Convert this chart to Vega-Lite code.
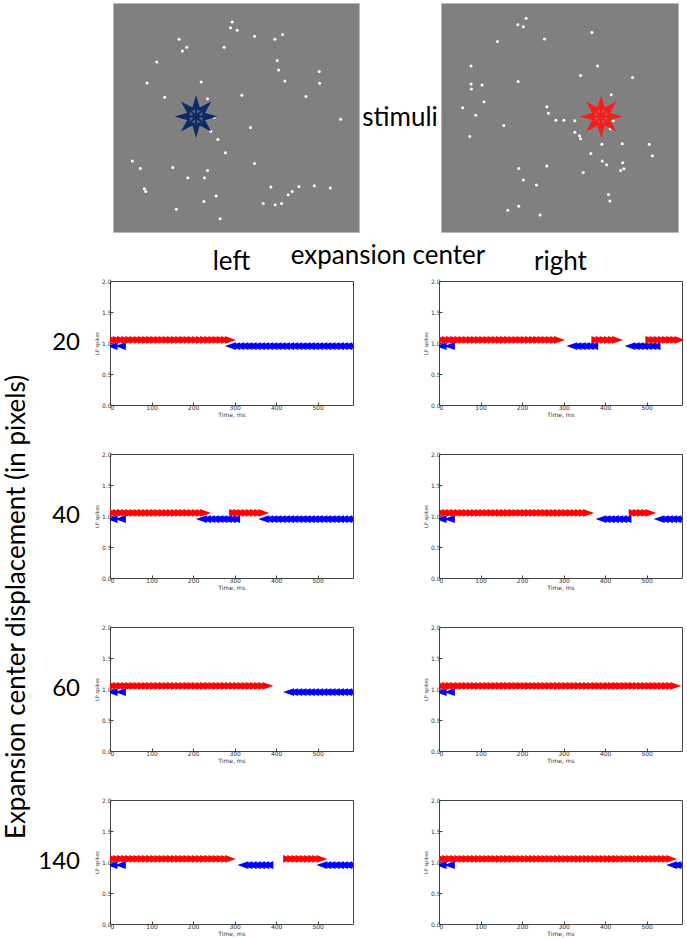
{
"$schema":"https://vega.github.io/schema/vega-lite/v6.json",
"padding":{"left":3,"top":2,"right":0,"bottom":0},
"background":"white",
"config":{"font":"Lato","view":{"stroke":"#444"}},
"datasets":{
"dotsL":[{"x":365,"y":62},{"x":360,"y":79},{"x":380,"y":87},{"x":432,"y":105},{"x":493,"y":114},{"x":516,"y":100},{"x":206,"y":114},{"x":229,"y":138},{"x":216,"y":149},{"x":341,"y":138},{"x":139,"y":182},{"x":500,"y":178},{"x":504,"y":206},{"x":626,"y":211},{"x":110,"y":245},{"x":272,"y":242},{"x":523,"y":239},{"x":627,"y":246},{"x":163,"y":288},{"x":291,"y":293},{"x":394,"y":282},{"x":586,"y":286},{"x":311,"y":348},{"x":690,"y":354},{"x":301,"y":390},{"x":420,"y":379},{"x":322,"y":415},{"x":345,"y":455},{"x":66,"y":480},{"x":90,"y":502},{"x":187,"y":499},{"x":432,"y":487},{"x":291,"y":508},{"x":232,"y":530},{"x":282,"y":530},{"x":481,"y":558},{"x":565,"y":556},{"x":611,"y":554},{"x":659,"y":561},{"x":545,"y":571},{"x":533,"y":581},{"x":102,"y":563},{"x":106,"y":571},{"x":317,"y":585},{"x":280,"y":601},{"x":458,"y":607},{"x":494,"y":611},{"x":513,"y":607},{"x":198,"y":625},{"x":329,"y":653}],
"dotsR":[{"x":260,"y":51},{"x":235,"y":70},{"x":252,"y":76},{"x":457,"y":94},{"x":174,"y":121},{"x":315,"y":113},{"x":95,"y":194},{"x":474,"y":194},{"x":423,"y":223},{"x":579,"y":229},{"x":95,"y":248},{"x":128,"y":251},{"x":96,"y":263},{"x":236,"y":241},{"x":515,"y":281},{"x":134,"y":302},{"x":70,"y":320},{"x":322,"y":317},{"x":327,"y":336},{"x":109,"y":342},{"x":349,"y":357},{"x":373,"y":357},{"x":406,"y":359},{"x":521,"y":359},{"x":512,"y":383},{"x":193,"y":373},{"x":406,"y":393},{"x":420,"y":404},{"x":423,"y":413},{"x":91,"y":406},{"x":487,"y":429},{"x":548,"y":428},{"x":629,"y":429},{"x":638,"y":464},{"x":454,"y":457},{"x":488,"y":480},{"x":501,"y":491},{"x":549,"y":485},{"x":553,"y":503},{"x":543,"y":508},{"x":431,"y":514},{"x":238,"y":502},{"x":322,"y":495},{"x":252,"y":537},{"x":291,"y":552},{"x":507,"y":580},{"x":511,"y":600},{"x":238,"y":616},{"x":205,"y":628},{"x":302,"y":642}],
"starL":[{"x":257,"y":346}],
"starR":[{"x":485,"y":346}],
"spikes":[
{"d":20,"c":"left","s":"L","v":0.95,"t":5},{"d":20,"c":"left","s":"L","v":0.95,"t":25},{"d":20,"c":"left","s":"L","v":0.95,"t":290},{"d":20,"c":"left","s":"L","v":0.95,"t":300},{"d":20,"c":"left","s":"L","v":0.95,"t":310},{"d":20,"c":"left","s":"L","v":0.95,"t":320},{"d":20,"c":"left","s":"L","v":0.95,"t":330},{"d":20,"c":"left","s":"L","v":0.95,"t":340},{"d":20,"c":"left","s":"L","v":0.95,"t":350},{"d":20,"c":"left","s":"L","v":0.95,"t":360},{"d":20,"c":"left","s":"L","v":0.95,"t":370},{"d":20,"c":"left","s":"L","v":0.95,"t":380},{"d":20,"c":"left","s":"L","v":0.95,"t":390},{"d":20,"c":"left","s":"L","v":0.95,"t":400},{"d":20,"c":"left","s":"L","v":0.95,"t":410},{"d":20,"c":"left","s":"L","v":0.95,"t":420},{"d":20,"c":"left","s":"L","v":0.95,"t":430},{"d":20,"c":"left","s":"L","v":0.95,"t":440},{"d":20,"c":"left","s":"L","v":0.95,"t":450},{"d":20,"c":"left","s":"L","v":0.95,"t":460},{"d":20,"c":"left","s":"L","v":0.95,"t":470},{"d":20,"c":"left","s":"L","v":0.95,"t":480},{"d":20,"c":"left","s":"L","v":0.95,"t":490},{"d":20,"c":"left","s":"L","v":0.95,"t":500},{"d":20,"c":"left","s":"L","v":0.95,"t":510},{"d":20,"c":"left","s":"L","v":0.95,"t":520},{"d":20,"c":"left","s":"L","v":0.95,"t":530},{"d":20,"c":"left","s":"L","v":0.95,"t":540},{"d":20,"c":"left","s":"L","v":0.95,"t":550},{"d":20,"c":"left","s":"L","v":0.95,"t":560},{"d":20,"c":"left","s":"L","v":0.95,"t":570},{"d":20,"c":"left","s":"L","v":0.95,"t":580},
{"d":20,"c":"left","s":"R","v":1.05,"t":0},{"d":20,"c":"left","s":"R","v":1.05,"t":10},{"d":20,"c":"left","s":"R","v":1.05,"t":20},{"d":20,"c":"left","s":"R","v":1.05,"t":30},{"d":20,"c":"left","s":"R","v":1.05,"t":40},{"d":20,"c":"left","s":"R","v":1.05,"t":50},{"d":20,"c":"left","s":"R","v":1.05,"t":60},{"d":20,"c":"left","s":"R","v":1.05,"t":70},{"d":20,"c":"left","s":"R","v":1.05,"t":80},{"d":20,"c":"left","s":"R","v":1.05,"t":90},{"d":20,"c":"left","s":"R","v":1.05,"t":100},{"d":20,"c":"left","s":"R","v":1.05,"t":110},{"d":20,"c":"left","s":"R","v":1.05,"t":120},{"d":20,"c":"left","s":"R","v":1.05,"t":130},{"d":20,"c":"left","s":"R","v":1.05,"t":140},{"d":20,"c":"left","s":"R","v":1.05,"t":150},{"d":20,"c":"left","s":"R","v":1.05,"t":160},{"d":20,"c":"left","s":"R","v":1.05,"t":170},{"d":20,"c":"left","s":"R","v":1.05,"t":180},{"d":20,"c":"left","s":"R","v":1.05,"t":190},{"d":20,"c":"left","s":"R","v":1.05,"t":200},{"d":20,"c":"left","s":"R","v":1.05,"t":210},{"d":20,"c":"left","s":"R","v":1.05,"t":220},{"d":20,"c":"left","s":"R","v":1.05,"t":230},{"d":20,"c":"left","s":"R","v":1.05,"t":240},{"d":20,"c":"left","s":"R","v":1.05,"t":250},{"d":20,"c":"left","s":"R","v":1.05,"t":260},{"d":20,"c":"left","s":"R","v":1.05,"t":270},{"d":20,"c":"left","s":"R","v":1.05,"t":280},{"d":20,"c":"left","s":"R","v":1.05,"t":290},
{"d":20,"c":"right","s":"L","v":0.95,"t":5},{"d":20,"c":"right","s":"L","v":0.95,"t":25},{"d":20,"c":"right","s":"L","v":0.95,"t":320},{"d":20,"c":"right","s":"L","v":0.95,"t":330},{"d":20,"c":"right","s":"L","v":0.95,"t":340},{"d":20,"c":"right","s":"L","v":0.95,"t":350},{"d":20,"c":"right","s":"L","v":0.95,"t":360},{"d":20,"c":"right","s":"L","v":0.95,"t":370},{"d":20,"c":"right","s":"L","v":0.95,"t":460},{"d":20,"c":"right","s":"L","v":0.95,"t":470},{"d":20,"c":"right","s":"L","v":0.95,"t":480},{"d":20,"c":"right","s":"L","v":0.95,"t":490},{"d":20,"c":"right","s":"L","v":0.95,"t":500},{"d":20,"c":"right","s":"L","v":0.95,"t":510},{"d":20,"c":"right","s":"L","v":0.95,"t":520},
{"d":20,"c":"right","s":"R","v":1.05,"t":0},{"d":20,"c":"right","s":"R","v":1.05,"t":10},{"d":20,"c":"right","s":"R","v":1.05,"t":20},{"d":20,"c":"right","s":"R","v":1.05,"t":30},{"d":20,"c":"right","s":"R","v":1.05,"t":40},{"d":20,"c":"right","s":"R","v":1.05,"t":50},{"d":20,"c":"right","s":"R","v":1.05,"t":60},{"d":20,"c":"right","s":"R","v":1.05,"t":70},{"d":20,"c":"right","s":"R","v":1.05,"t":80},{"d":20,"c":"right","s":"R","v":1.05,"t":90},{"d":20,"c":"right","s":"R","v":1.05,"t":100},{"d":20,"c":"right","s":"R","v":1.05,"t":110},{"d":20,"c":"right","s":"R","v":1.05,"t":120},{"d":20,"c":"right","s":"R","v":1.05,"t":130},{"d":20,"c":"right","s":"R","v":1.05,"t":140},{"d":20,"c":"right","s":"R","v":1.05,"t":150},{"d":20,"c":"right","s":"R","v":1.05,"t":160},{"d":20,"c":"right","s":"R","v":1.05,"t":170},{"d":20,"c":"right","s":"R","v":1.05,"t":180},{"d":20,"c":"right","s":"R","v":1.05,"t":190},{"d":20,"c":"right","s":"R","v":1.05,"t":200},{"d":20,"c":"right","s":"R","v":1.05,"t":210},{"d":20,"c":"right","s":"R","v":1.05,"t":220},{"d":20,"c":"right","s":"R","v":1.05,"t":230},{"d":20,"c":"right","s":"R","v":1.05,"t":240},{"d":20,"c":"right","s":"R","v":1.05,"t":250},{"d":20,"c":"right","s":"R","v":1.05,"t":260},{"d":20,"c":"right","s":"R","v":1.05,"t":270},{"d":20,"c":"right","s":"R","v":1.05,"t":280},{"d":20,"c":"right","s":"R","v":1.05,"t":290},{"d":20,"c":"right","s":"R","v":1.05,"t":380},{"d":20,"c":"right","s":"R","v":1.05,"t":390},{"d":20,"c":"right","s":"R","v":1.05,"t":400},{"d":20,"c":"right","s":"R","v":1.05,"t":410},{"d":20,"c":"right","s":"R","v":1.05,"t":420},{"d":20,"c":"right","s":"R","v":1.05,"t":430},{"d":20,"c":"right","s":"R","v":1.05,"t":510},{"d":20,"c":"right","s":"R","v":1.05,"t":520},{"d":20,"c":"right","s":"R","v":1.05,"t":530},{"d":20,"c":"right","s":"R","v":1.05,"t":540},{"d":20,"c":"right","s":"R","v":1.05,"t":550},{"d":20,"c":"right","s":"R","v":1.05,"t":560},{"d":20,"c":"right","s":"R","v":1.05,"t":570},{"d":20,"c":"right","s":"R","v":1.05,"t":580},
{"d":40,"c":"left","s":"L","v":0.95,"t":5},{"d":40,"c":"left","s":"L","v":0.95,"t":25},{"d":40,"c":"left","s":"L","v":0.95,"t":220},{"d":40,"c":"left","s":"L","v":0.95,"t":230},{"d":40,"c":"left","s":"L","v":0.95,"t":240},{"d":40,"c":"left","s":"L","v":0.95,"t":250},{"d":40,"c":"left","s":"L","v":0.95,"t":260},{"d":40,"c":"left","s":"L","v":0.95,"t":270},{"d":40,"c":"left","s":"L","v":0.95,"t":280},{"d":40,"c":"left","s":"L","v":0.95,"t":290},{"d":40,"c":"left","s":"L","v":0.95,"t":300},{"d":40,"c":"left","s":"L","v":0.95,"t":370},{"d":40,"c":"left","s":"L","v":0.95,"t":380},{"d":40,"c":"left","s":"L","v":0.95,"t":390},{"d":40,"c":"left","s":"L","v":0.95,"t":400},{"d":40,"c":"left","s":"L","v":0.95,"t":410},{"d":40,"c":"left","s":"L","v":0.95,"t":420},{"d":40,"c":"left","s":"L","v":0.95,"t":430},{"d":40,"c":"left","s":"L","v":0.95,"t":440},{"d":40,"c":"left","s":"L","v":0.95,"t":450},{"d":40,"c":"left","s":"L","v":0.95,"t":460},{"d":40,"c":"left","s":"L","v":0.95,"t":470},{"d":40,"c":"left","s":"L","v":0.95,"t":480},{"d":40,"c":"left","s":"L","v":0.95,"t":490},{"d":40,"c":"left","s":"L","v":0.95,"t":500},{"d":40,"c":"left","s":"L","v":0.95,"t":510},{"d":40,"c":"left","s":"L","v":0.95,"t":520},{"d":40,"c":"left","s":"L","v":0.95,"t":530},{"d":40,"c":"left","s":"L","v":0.95,"t":540},{"d":40,"c":"left","s":"L","v":0.95,"t":550},{"d":40,"c":"left","s":"L","v":0.95,"t":560},{"d":40,"c":"left","s":"L","v":0.95,"t":570},{"d":40,"c":"left","s":"L","v":0.95,"t":580},
{"d":40,"c":"left","s":"R","v":1.05,"t":0},{"d":40,"c":"left","s":"R","v":1.05,"t":10},{"d":40,"c":"left","s":"R","v":1.05,"t":20},{"d":40,"c":"left","s":"R","v":1.05,"t":30},{"d":40,"c":"left","s":"R","v":1.05,"t":40},{"d":40,"c":"left","s":"R","v":1.05,"t":50},{"d":40,"c":"left","s":"R","v":1.05,"t":60},{"d":40,"c":"left","s":"R","v":1.05,"t":70},{"d":40,"c":"left","s":"R","v":1.05,"t":80},{"d":40,"c":"left","s":"R","v":1.05,"t":90},{"d":40,"c":"left","s":"R","v":1.05,"t":100},{"d":40,"c":"left","s":"R","v":1.05,"t":110},{"d":40,"c":"left","s":"R","v":1.05,"t":120},{"d":40,"c":"left","s":"R","v":1.05,"t":130},{"d":40,"c":"left","s":"R","v":1.05,"t":140},{"d":40,"c":"left","s":"R","v":1.05,"t":150},{"d":40,"c":"left","s":"R","v":1.05,"t":160},{"d":40,"c":"left","s":"R","v":1.05,"t":170},{"d":40,"c":"left","s":"R","v":1.05,"t":180},{"d":40,"c":"left","s":"R","v":1.05,"t":190},{"d":40,"c":"left","s":"R","v":1.05,"t":200},{"d":40,"c":"left","s":"R","v":1.05,"t":210},{"d":40,"c":"left","s":"R","v":1.05,"t":220},{"d":40,"c":"left","s":"R","v":1.05,"t":230},{"d":40,"c":"left","s":"R","v":1.05,"t":300},{"d":40,"c":"left","s":"R","v":1.05,"t":310},{"d":40,"c":"left","s":"R","v":1.05,"t":320},{"d":40,"c":"left","s":"R","v":1.05,"t":330},{"d":40,"c":"left","s":"R","v":1.05,"t":340},{"d":40,"c":"left","s":"R","v":1.05,"t":350},{"d":40,"c":"left","s":"R","v":1.05,"t":360},{"d":40,"c":"left","s":"R","v":1.05,"t":370},
{"d":40,"c":"right","s":"L","v":0.95,"t":5},{"d":40,"c":"right","s":"L","v":0.95,"t":25},{"d":40,"c":"right","s":"L","v":0.95,"t":390},{"d":40,"c":"right","s":"L","v":0.95,"t":400},{"d":40,"c":"right","s":"L","v":0.95,"t":410},{"d":40,"c":"right","s":"L","v":0.95,"t":420},{"d":40,"c":"right","s":"L","v":0.95,"t":430},{"d":40,"c":"right","s":"L","v":0.95,"t":440},{"d":40,"c":"right","s":"L","v":0.95,"t":450},{"d":40,"c":"right","s":"L","v":0.95,"t":530},{"d":40,"c":"right","s":"L","v":0.95,"t":540},{"d":40,"c":"right","s":"L","v":0.95,"t":550},{"d":40,"c":"right","s":"L","v":0.95,"t":560},{"d":40,"c":"right","s":"L","v":0.95,"t":570},{"d":40,"c":"right","s":"L","v":0.95,"t":580},
{"d":40,"c":"right","s":"R","v":1.05,"t":0},{"d":40,"c":"right","s":"R","v":1.05,"t":10},{"d":40,"c":"right","s":"R","v":1.05,"t":20},{"d":40,"c":"right","s":"R","v":1.05,"t":30},{"d":40,"c":"right","s":"R","v":1.05,"t":40},{"d":40,"c":"right","s":"R","v":1.05,"t":50},{"d":40,"c":"right","s":"R","v":1.05,"t":60},{"d":40,"c":"right","s":"R","v":1.05,"t":70},{"d":40,"c":"right","s":"R","v":1.05,"t":80},{"d":40,"c":"right","s":"R","v":1.05,"t":90},{"d":40,"c":"right","s":"R","v":1.05,"t":100},{"d":40,"c":"right","s":"R","v":1.05,"t":110},{"d":40,"c":"right","s":"R","v":1.05,"t":120},{"d":40,"c":"right","s":"R","v":1.05,"t":130},{"d":40,"c":"right","s":"R","v":1.05,"t":140},{"d":40,"c":"right","s":"R","v":1.05,"t":150},{"d":40,"c":"right","s":"R","v":1.05,"t":160},{"d":40,"c":"right","s":"R","v":1.05,"t":170},{"d":40,"c":"right","s":"R","v":1.05,"t":180},{"d":40,"c":"right","s":"R","v":1.05,"t":190},{"d":40,"c":"right","s":"R","v":1.05,"t":200},{"d":40,"c":"right","s":"R","v":1.05,"t":210},{"d":40,"c":"right","s":"R","v":1.05,"t":220},{"d":40,"c":"right","s":"R","v":1.05,"t":230},{"d":40,"c":"right","s":"R","v":1.05,"t":240},{"d":40,"c":"right","s":"R","v":1.05,"t":250},{"d":40,"c":"right","s":"R","v":1.05,"t":260},{"d":40,"c":"right","s":"R","v":1.05,"t":270},{"d":40,"c":"right","s":"R","v":1.05,"t":280},{"d":40,"c":"right","s":"R","v":1.05,"t":290},{"d":40,"c":"right","s":"R","v":1.05,"t":300},{"d":40,"c":"right","s":"R","v":1.05,"t":310},{"d":40,"c":"right","s":"R","v":1.05,"t":320},{"d":40,"c":"right","s":"R","v":1.05,"t":330},{"d":40,"c":"right","s":"R","v":1.05,"t":340},{"d":40,"c":"right","s":"R","v":1.05,"t":350},{"d":40,"c":"right","s":"R","v":1.05,"t":360},{"d":40,"c":"right","s":"R","v":1.05,"t":470},{"d":40,"c":"right","s":"R","v":1.05,"t":480},{"d":40,"c":"right","s":"R","v":1.05,"t":490},{"d":40,"c":"right","s":"R","v":1.05,"t":500},{"d":40,"c":"right","s":"R","v":1.05,"t":510},
{"d":60,"c":"left","s":"L","v":0.95,"t":5},{"d":60,"c":"left","s":"L","v":0.95,"t":25},{"d":60,"c":"left","s":"L","v":0.95,"t":430},{"d":60,"c":"left","s":"L","v":0.95,"t":440},{"d":60,"c":"left","s":"L","v":0.95,"t":450},{"d":60,"c":"left","s":"L","v":0.95,"t":460},{"d":60,"c":"left","s":"L","v":0.95,"t":470},{"d":60,"c":"left","s":"L","v":0.95,"t":480},{"d":60,"c":"left","s":"L","v":0.95,"t":490},{"d":60,"c":"left","s":"L","v":0.95,"t":500},{"d":60,"c":"left","s":"L","v":0.95,"t":510},{"d":60,"c":"left","s":"L","v":0.95,"t":520},{"d":60,"c":"left","s":"L","v":0.95,"t":530},{"d":60,"c":"left","s":"L","v":0.95,"t":540},{"d":60,"c":"left","s":"L","v":0.95,"t":550},{"d":60,"c":"left","s":"L","v":0.95,"t":560},{"d":60,"c":"left","s":"L","v":0.95,"t":570},{"d":60,"c":"left","s":"L","v":0.95,"t":580},
{"d":60,"c":"left","s":"R","v":1.05,"t":0},{"d":60,"c":"left","s":"R","v":1.05,"t":10},{"d":60,"c":"left","s":"R","v":1.05,"t":20},{"d":60,"c":"left","s":"R","v":1.05,"t":30},{"d":60,"c":"left","s":"R","v":1.05,"t":40},{"d":60,"c":"left","s":"R","v":1.05,"t":50},{"d":60,"c":"left","s":"R","v":1.05,"t":60},{"d":60,"c":"left","s":"R","v":1.05,"t":70},{"d":60,"c":"left","s":"R","v":1.05,"t":80},{"d":60,"c":"left","s":"R","v":1.05,"t":90},{"d":60,"c":"left","s":"R","v":1.05,"t":100},{"d":60,"c":"left","s":"R","v":1.05,"t":110},{"d":60,"c":"left","s":"R","v":1.05,"t":120},{"d":60,"c":"left","s":"R","v":1.05,"t":130},{"d":60,"c":"left","s":"R","v":1.05,"t":140},{"d":60,"c":"left","s":"R","v":1.05,"t":150},{"d":60,"c":"left","s":"R","v":1.05,"t":160},{"d":60,"c":"left","s":"R","v":1.05,"t":170},{"d":60,"c":"left","s":"R","v":1.05,"t":180},{"d":60,"c":"left","s":"R","v":1.05,"t":190},{"d":60,"c":"left","s":"R","v":1.05,"t":200},{"d":60,"c":"left","s":"R","v":1.05,"t":210},{"d":60,"c":"left","s":"R","v":1.05,"t":220},{"d":60,"c":"left","s":"R","v":1.05,"t":230},{"d":60,"c":"left","s":"R","v":1.05,"t":240},{"d":60,"c":"left","s":"R","v":1.05,"t":250},{"d":60,"c":"left","s":"R","v":1.05,"t":260},{"d":60,"c":"left","s":"R","v":1.05,"t":270},{"d":60,"c":"left","s":"R","v":1.05,"t":280},{"d":60,"c":"left","s":"R","v":1.05,"t":290},{"d":60,"c":"left","s":"R","v":1.05,"t":300},{"d":60,"c":"left","s":"R","v":1.05,"t":310},{"d":60,"c":"left","s":"R","v":1.05,"t":320},{"d":60,"c":"left","s":"R","v":1.05,"t":330},{"d":60,"c":"left","s":"R","v":1.05,"t":340},{"d":60,"c":"left","s":"R","v":1.05,"t":350},{"d":60,"c":"left","s":"R","v":1.05,"t":360},{"d":60,"c":"left","s":"R","v":1.05,"t":370},{"d":60,"c":"left","s":"R","v":1.05,"t":380},
{"d":60,"c":"right","s":"L","v":0.95,"t":5},{"d":60,"c":"right","s":"L","v":0.95,"t":25},
{"d":60,"c":"right","s":"R","v":1.05,"t":0},{"d":60,"c":"right","s":"R","v":1.05,"t":10},{"d":60,"c":"right","s":"R","v":1.05,"t":20},{"d":60,"c":"right","s":"R","v":1.05,"t":30},{"d":60,"c":"right","s":"R","v":1.05,"t":40},{"d":60,"c":"right","s":"R","v":1.05,"t":50},{"d":60,"c":"right","s":"R","v":1.05,"t":60},{"d":60,"c":"right","s":"R","v":1.05,"t":70},{"d":60,"c":"right","s":"R","v":1.05,"t":80},{"d":60,"c":"right","s":"R","v":1.05,"t":90},{"d":60,"c":"right","s":"R","v":1.05,"t":100},{"d":60,"c":"right","s":"R","v":1.05,"t":110},{"d":60,"c":"right","s":"R","v":1.05,"t":120},{"d":60,"c":"right","s":"R","v":1.05,"t":130},{"d":60,"c":"right","s":"R","v":1.05,"t":140},{"d":60,"c":"right","s":"R","v":1.05,"t":150},{"d":60,"c":"right","s":"R","v":1.05,"t":160},{"d":60,"c":"right","s":"R","v":1.05,"t":170},{"d":60,"c":"right","s":"R","v":1.05,"t":180},{"d":60,"c":"right","s":"R","v":1.05,"t":190},{"d":60,"c":"right","s":"R","v":1.05,"t":200},{"d":60,"c":"right","s":"R","v":1.05,"t":210},{"d":60,"c":"right","s":"R","v":1.05,"t":220},{"d":60,"c":"right","s":"R","v":1.05,"t":230},{"d":60,"c":"right","s":"R","v":1.05,"t":240},{"d":60,"c":"right","s":"R","v":1.05,"t":250},{"d":60,"c":"right","s":"R","v":1.05,"t":260},{"d":60,"c":"right","s":"R","v":1.05,"t":270},{"d":60,"c":"right","s":"R","v":1.05,"t":280},{"d":60,"c":"right","s":"R","v":1.05,"t":290},{"d":60,"c":"right","s":"R","v":1.05,"t":300},{"d":60,"c":"right","s":"R","v":1.05,"t":310},{"d":60,"c":"right","s":"R","v":1.05,"t":320},{"d":60,"c":"right","s":"R","v":1.05,"t":330},{"d":60,"c":"right","s":"R","v":1.05,"t":340},{"d":60,"c":"right","s":"R","v":1.05,"t":350},{"d":60,"c":"right","s":"R","v":1.05,"t":360},{"d":60,"c":"right","s":"R","v":1.05,"t":370},{"d":60,"c":"right","s":"R","v":1.05,"t":380},{"d":60,"c":"right","s":"R","v":1.05,"t":390},{"d":60,"c":"right","s":"R","v":1.05,"t":400},{"d":60,"c":"right","s":"R","v":1.05,"t":410},{"d":60,"c":"right","s":"R","v":1.05,"t":420},{"d":60,"c":"right","s":"R","v":1.05,"t":430},{"d":60,"c":"right","s":"R","v":1.05,"t":440},{"d":60,"c":"right","s":"R","v":1.05,"t":450},{"d":60,"c":"right","s":"R","v":1.05,"t":460},{"d":60,"c":"right","s":"R","v":1.05,"t":470},{"d":60,"c":"right","s":"R","v":1.05,"t":480},{"d":60,"c":"right","s":"R","v":1.05,"t":490},{"d":60,"c":"right","s":"R","v":1.05,"t":500},{"d":60,"c":"right","s":"R","v":1.05,"t":510},{"d":60,"c":"right","s":"R","v":1.05,"t":520},{"d":60,"c":"right","s":"R","v":1.05,"t":530},{"d":60,"c":"right","s":"R","v":1.05,"t":540},{"d":60,"c":"right","s":"R","v":1.05,"t":550},{"d":60,"c":"right","s":"R","v":1.05,"t":560},{"d":60,"c":"right","s":"R","v":1.05,"t":570},
{"d":140,"c":"left","s":"L","v":0.95,"t":5},{"d":140,"c":"left","s":"L","v":0.95,"t":25},{"d":140,"c":"left","s":"L","v":0.95,"t":320},{"d":140,"c":"left","s":"L","v":0.95,"t":330},{"d":140,"c":"left","s":"L","v":0.95,"t":340},{"d":140,"c":"left","s":"L","v":0.95,"t":350},{"d":140,"c":"left","s":"L","v":0.95,"t":360},{"d":140,"c":"left","s":"L","v":0.95,"t":370},{"d":140,"c":"left","s":"L","v":0.95,"t":380},{"d":140,"c":"left","s":"L","v":0.95,"t":510},{"d":140,"c":"left","s":"L","v":0.95,"t":520},{"d":140,"c":"left","s":"L","v":0.95,"t":530},{"d":140,"c":"left","s":"L","v":0.95,"t":540},{"d":140,"c":"left","s":"L","v":0.95,"t":550},{"d":140,"c":"left","s":"L","v":0.95,"t":560},{"d":140,"c":"left","s":"L","v":0.95,"t":570},{"d":140,"c":"left","s":"L","v":0.95,"t":580},
{"d":140,"c":"left","s":"R","v":1.05,"t":0},{"d":140,"c":"left","s":"R","v":1.05,"t":10},{"d":140,"c":"left","s":"R","v":1.05,"t":20},{"d":140,"c":"left","s":"R","v":1.05,"t":30},{"d":140,"c":"left","s":"R","v":1.05,"t":40},{"d":140,"c":"left","s":"R","v":1.05,"t":50},{"d":140,"c":"left","s":"R","v":1.05,"t":60},{"d":140,"c":"left","s":"R","v":1.05,"t":70},{"d":140,"c":"left","s":"R","v":1.05,"t":80},{"d":140,"c":"left","s":"R","v":1.05,"t":90},{"d":140,"c":"left","s":"R","v":1.05,"t":100},{"d":140,"c":"left","s":"R","v":1.05,"t":110},{"d":140,"c":"left","s":"R","v":1.05,"t":120},{"d":140,"c":"left","s":"R","v":1.05,"t":130},{"d":140,"c":"left","s":"R","v":1.05,"t":140},{"d":140,"c":"left","s":"R","v":1.05,"t":150},{"d":140,"c":"left","s":"R","v":1.05,"t":160},{"d":140,"c":"left","s":"R","v":1.05,"t":170},{"d":140,"c":"left","s":"R","v":1.05,"t":180},{"d":140,"c":"left","s":"R","v":1.05,"t":190},{"d":140,"c":"left","s":"R","v":1.05,"t":200},{"d":140,"c":"left","s":"R","v":1.05,"t":210},{"d":140,"c":"left","s":"R","v":1.05,"t":220},{"d":140,"c":"left","s":"R","v":1.05,"t":230},{"d":140,"c":"left","s":"R","v":1.05,"t":240},{"d":140,"c":"left","s":"R","v":1.05,"t":250},{"d":140,"c":"left","s":"R","v":1.05,"t":260},{"d":140,"c":"left","s":"R","v":1.05,"t":270},{"d":140,"c":"left","s":"R","v":1.05,"t":280},{"d":140,"c":"left","s":"R","v":1.05,"t":290},{"d":140,"c":"left","s":"R","v":1.05,"t":430},{"d":140,"c":"left","s":"R","v":1.05,"t":440},{"d":140,"c":"left","s":"R","v":1.05,"t":450},{"d":140,"c":"left","s":"R","v":1.05,"t":460},{"d":140,"c":"left","s":"R","v":1.05,"t":470},{"d":140,"c":"left","s":"R","v":1.05,"t":480},{"d":140,"c":"left","s":"R","v":1.05,"t":490},{"d":140,"c":"left","s":"R","v":1.05,"t":500},{"d":140,"c":"left","s":"R","v":1.05,"t":510},
{"d":140,"c":"right","s":"L","v":0.95,"t":5},{"d":140,"c":"right","s":"L","v":0.95,"t":25},{"d":140,"c":"right","s":"L","v":0.95,"t":560},{"d":140,"c":"right","s":"L","v":0.95,"t":570},{"d":140,"c":"right","s":"L","v":0.95,"t":580},
{"d":140,"c":"right","s":"R","v":1.05,"t":0},{"d":140,"c":"right","s":"R","v":1.05,"t":10},{"d":140,"c":"right","s":"R","v":1.05,"t":20},{"d":140,"c":"right","s":"R","v":1.05,"t":30},{"d":140,"c":"right","s":"R","v":1.05,"t":40},{"d":140,"c":"right","s":"R","v":1.05,"t":50},{"d":140,"c":"right","s":"R","v":1.05,"t":60},{"d":140,"c":"right","s":"R","v":1.05,"t":70},{"d":140,"c":"right","s":"R","v":1.05,"t":80},{"d":140,"c":"right","s":"R","v":1.05,"t":90},{"d":140,"c":"right","s":"R","v":1.05,"t":100},{"d":140,"c":"right","s":"R","v":1.05,"t":110},{"d":140,"c":"right","s":"R","v":1.05,"t":120},{"d":140,"c":"right","s":"R","v":1.05,"t":130},{"d":140,"c":"right","s":"R","v":1.05,"t":140},{"d":140,"c":"right","s":"R","v":1.05,"t":150},{"d":140,"c":"right","s":"R","v":1.05,"t":160},{"d":140,"c":"right","s":"R","v":1.05,"t":170},{"d":140,"c":"right","s":"R","v":1.05,"t":180},{"d":140,"c":"right","s":"R","v":1.05,"t":190},{"d":140,"c":"right","s":"R","v":1.05,"t":200},{"d":140,"c":"right","s":"R","v":1.05,"t":210},{"d":140,"c":"right","s":"R","v":1.05,"t":220},{"d":140,"c":"right","s":"R","v":1.05,"t":230},{"d":140,"c":"right","s":"R","v":1.05,"t":240},{"d":140,"c":"right","s":"R","v":1.05,"t":250},{"d":140,"c":"right","s":"R","v":1.05,"t":260},{"d":140,"c":"right","s":"R","v":1.05,"t":270},{"d":140,"c":"right","s":"R","v":1.05,"t":280},{"d":140,"c":"right","s":"R","v":1.05,"t":290},{"d":140,"c":"right","s":"R","v":1.05,"t":300},{"d":140,"c":"right","s":"R","v":1.05,"t":310},{"d":140,"c":"right","s":"R","v":1.05,"t":320},{"d":140,"c":"right","s":"R","v":1.05,"t":330},{"d":140,"c":"right","s":"R","v":1.05,"t":340},{"d":140,"c":"right","s":"R","v":1.05,"t":350},{"d":140,"c":"right","s":"R","v":1.05,"t":360},{"d":140,"c":"right","s":"R","v":1.05,"t":370},{"d":140,"c":"right","s":"R","v":1.05,"t":380},{"d":140,"c":"right","s":"R","v":1.05,"t":390},{"d":140,"c":"right","s":"R","v":1.05,"t":400},{"d":140,"c":"right","s":"R","v":1.05,"t":410},{"d":140,"c":"right","s":"R","v":1.05,"t":420},{"d":140,"c":"right","s":"R","v":1.05,"t":430},{"d":140,"c":"right","s":"R","v":1.05,"t":440},{"d":140,"c":"right","s":"R","v":1.05,"t":450},{"d":140,"c":"right","s":"R","v":1.05,"t":460},{"d":140,"c":"right","s":"R","v":1.05,"t":470},{"d":140,"c":"right","s":"R","v":1.05,"t":480},{"d":140,"c":"right","s":"R","v":1.05,"t":490},{"d":140,"c":"right","s":"R","v":1.05,"t":500},{"d":140,"c":"right","s":"R","v":1.05,"t":510},{"d":140,"c":"right","s":"R","v":1.05,"t":520},{"d":140,"c":"right","s":"R","v":1.05,"t":530},{"d":140,"c":"right","s":"R","v":1.05,"t":540},{"d":140,"c":"right","s":"R","v":1.05,"t":550},{"d":140,"c":"right","s":"R","v":1.05,"t":560}
]
},
"vconcat":[
{"hconcat":[
 {"width":2,"height":229,"view":{"stroke":null},"data":{"values":[{"label":""}]},"mark":{"type":"text"},"encoding":{"text":{"field":"label"}}},
 {"width":246,"height":229,"view":{"fill":"#808080","stroke":"#b8b8b8"},
  "layer":[
   {"data":{"name":"dotsL"},"mark":{"type":"point","filled":true,"color":"white","size":9,"opacity":1},
    "encoding":{"x":{"field":"x","type":"quantitative","scale":{"domain":[8,745],"nice":false,"zero":false},"axis":null},"y":{"field":"y","type":"quantitative","scale":{"domain":[5,693],"nice":false,"zero":false,"reverse":true},"axis":null}}},
   {"data":{"name":"starL"},"mark":{"type":"point","shape":"M0,-1L0.17,-0.42L0.71,-0.71L0.42,-0.17L1,0L0.42,0.17L0.71,0.71L0.17,0.42L0,1L-0.17,0.42L-0.71,0.71L-0.42,0.17L-1,0L-0.42,-0.17L-0.71,-0.71L-0.17,-0.42ZM0,-1L0,1M-1,0L1,0M-0.71,-0.71L0.71,0.71M-0.71,0.71L0.71,-0.71","filled":false,"stroke":"#0c2a68","strokeWidth":2.5,"size":1150,"opacity":1},
    "encoding":{"x":{"field":"x","type":"quantitative"},"y":{"field":"y","type":"quantitative"}}}
  ]},
 {"width":80,"height":229,"view":{"stroke":null},"data":{"values":[{"label":"stimuli"}]},"mark":{"type":"text","fontSize":26,"font":"Lato","color":"black"},"encoding":{"text":{"field":"label"}}},
 {"width":237,"height":229,"view":{"fill":"#808080","stroke":"#b8b8b8"},
  "layer":[
   {"data":{"name":"dotsR"},"mark":{"type":"point","filled":true,"color":"white","size":9,"opacity":1},
    "encoding":{"x":{"field":"x","type":"quantitative","scale":{"domain":[5,715],"nice":false,"zero":false},"axis":null},"y":{"field":"y","type":"quantitative","scale":{"domain":[5,693],"nice":false,"zero":false,"reverse":true},"axis":null}}},
   {"data":{"name":"starR"},"mark":{"type":"point","shape":"M0,-1L0.17,-0.42L0.71,-0.71L0.42,-0.17L1,0L0.42,0.17L0.71,0.71L0.17,0.42L0,1L-0.17,0.42L-0.71,0.71L-0.42,0.17L-1,0L-0.42,-0.17L-0.71,-0.71L-0.17,-0.42ZM0,-1L0,1M-1,0L1,0M-0.71,-0.71L0.71,0.71M-0.71,0.71L0.71,-0.71","filled":false,"stroke":"#ff1a1a","strokeWidth":2.5,"size":1150,"opacity":1},
    "encoding":{"x":{"field":"x","type":"quantitative"},"y":{"field":"y","type":"quantitative"}}}
  ]}
],"spacing":0},
{"data":{"name":"spikes"},
 "facet":{
  "row":{"field":"d","type":"ordinal","title":"Expansion center displacement (in pixels)",
   "header":{"labelAngle":0,"labelAlign":"left","labelBaseline":"middle","labelFontSize":24,"labelFont":"Lato","labelColor":"black","labelPadding":13,"titleFontSize":26,"titleFont":"Lato","titleFontWeight":"normal","titleColor":"black","titlePadding":-2}},
  "column":{"field":"c","type":"nominal","title":"expansion center",
   "header":{"labelFontSize":26,"labelFont":"Lato","labelColor":"black","labelPadding":2,"titleFontSize":26,"titleFont":"Lato","titleFontWeight":"normal","titleColor":"black","titlePadding":-30}}
 },
 "spacing":{"row":32,"column":68},
 "resolve":{"axis":{"x":"independent","y":"independent"}},
 "spec":{
  "width":243,"height":124,
  "mark":{"type":"point","filled":true,"size":121,"opacity":1,"strokeWidth":0,"clip":true},
  "encoding":{
   "x":{"field":"t","type":"quantitative","scale":{"domain":[0,585],"nice":false,"zero":false},
    "axis":{"values":[0,100,200,300,400,500],"title":"Time, ms","labelFont":"DejaVu Sans","labelFontSize":6,"labelColor":"#333","titleFont":"DejaVu Sans","titleFontSize":6,"titleFontWeight":"normal","titleColor":"#333","titlePadding":1,"labelPadding":2,"domain":false,"grid":false,"tickSize":-3,"tickColor":"#444"}},
   "y":{"field":"v","type":"quantitative","scale":{"domain":[0,2],"nice":false},
    "axis":{"values":[0,0.5,1,1.5,2],"format":".1f","title":"LP spikes","labelFont":"DejaVu Sans","labelFontSize":6,"labelColor":"#333","titleFont":"DejaVu Sans","titleFontSize":5,"titleFontWeight":"normal","titleColor":"#333","titlePadding":2,"labelPadding":2,"domain":false,"grid":false,"tickSize":-3,"tickColor":"#444"}},
   "shape":{"field":"s","type":"nominal","scale":{"domain":["L","R"],"range":["M1,-0.7L-1,0L1,0.7Z","M-1,-0.7L1,0L-1,0.7Z"]},"legend":null},
   "color":{"field":"s","type":"nominal","scale":{"domain":["L","R"],"range":["#0000ff","#ff0000"]},"legend":null}
  }
 }
}
],
"spacing":10
}
